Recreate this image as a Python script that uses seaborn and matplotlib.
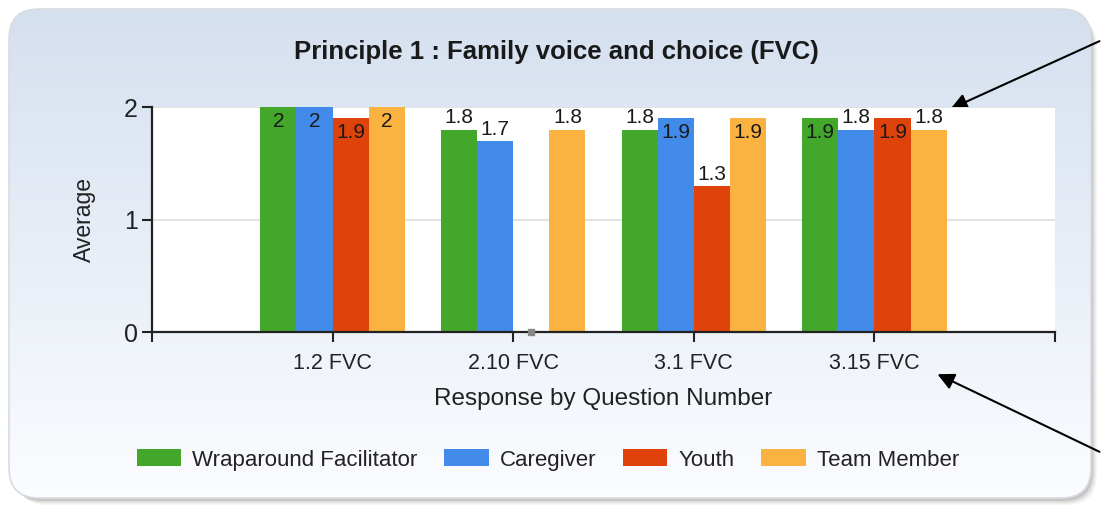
import numpy as np
import pandas as pd
import matplotlib
matplotlib.use("Agg")
import matplotlib.pyplot as plt
from matplotlib.patches import FancyBboxPatch, Patch
import seaborn as sns

# ---- data ----
questions = ["1.2 FVC", "2.10 FVC", "3.1 FVC", "3.15 FVC"]
roles = ["Wraparound Facilitator", "Caregiver", "Youth", "Team Member"]
facilitator = [2.0, 1.8, 1.8, 1.9]
caregiver = [2.0, 1.7, 1.9, 1.8]
youth = [1.9, 0.0, 1.3, 1.9]
team_member = [2.0, 1.8, 1.9, 1.8]
colors = ["#43A72C", "#428BEB", "#E0420B", "#FAB340"]
title = "Principle 1 : Family voice and choice (FVC)"
xlabel = "Response by Question Number"
ylabel = "Average"

df = pd.DataFrame({
    "question": questions * 4,
    "role": [r for r in roles for _ in questions],
    "avg": facilitator + caregiver + youth + team_member,
})

sns.set_theme(style="white")
plt.rcParams["font.family"] = ["Liberation Sans", "DejaVu Sans"]

W, H = 1102, 519
fig = plt.figure(figsize=(W / 100, H / 100), dpi=100)
fig.patch.set_facecolor("white")

# ---- background panel with gradient and shadow ----
bg = fig.add_axes([0, 0, 1, 1], zorder=-10)
bg.set_xlim(0, W)
bg.set_ylim(H, 0)
bg.axis("off")
for i, a in enumerate([0.05, 0.07, 0.10, 0.14]):
    off = 7 - i * 1.4
    sh = FancyBboxPatch((10 + off, 10 + off), 1080, 488, boxstyle="round,pad=0,rounding_size=30",
                        fc=(0.3, 0.3, 0.3, a), ec="none")
    bg.add_patch(sh)
panel = FancyBboxPatch((9, 9), 1082, 489, boxstyle="round,pad=0,rounding_size=30",
                       fc="none", ec="#D8DCE2", lw=1.2, zorder=3)
bg.add_patch(panel)
grad = np.linspace(0, 1, 256)[:, None]
top = np.array([0.835, 0.878, 0.937])
bot = np.array([0.985, 0.99, 1.0])
img = top[None, None, :] * (1 - grad[:, :, None]) + bot[None, None, :] * grad[:, :, None]
im = bg.imshow(img, extent=(9, 1091, 498, 9), aspect="auto", zorder=1)
clip = FancyBboxPatch((9, 9), 1082, 489, boxstyle="round,pad=0,rounding_size=30",
                      fc="none", ec="none", transform=bg.transData)
bg.add_patch(clip)
im.set_clip_path(clip)

# ---- plot ----
ax = fig.add_axes([152 / W, 1 - 332 / H, (1055 - 152) / W, (332 - 107) / H])
ax.set_facecolor("white")
sns.barplot(data=df, x="question", y="avg", hue="role", hue_order=roles,
            palette=colors, width=0.8, ax=ax, legend=False, saturation=1,
            edgecolor="none", linewidth=0)

ax.set_xlim(-1, 4)
ax.set_ylim(0, 2)
ax.set_xticks(range(-1, 5))
ax.set_xticklabels([""] + questions + [""], fontsize=15.5, color="#222222")
ax.set_yticks([0, 1, 2])
ax.set_yticklabels(["0", "1", "2"], fontsize=18, color="#222222")
ax.tick_params(axis="both", direction="out", length=7, width=1.5, color="#222222",
               bottom=True, left=True)
ax.tick_params(axis="x", pad=8)
ax.tick_params(axis="y", pad=3)
ax.yaxis.grid(True, color="#DDDDDD", lw=1.2)
ax.set_axisbelow(True)
for s in ["top", "right"]:
    ax.spines[s].set_visible(False)
for s in ["left", "bottom"]:
    ax.spines[s].set_color("#222222")
    ax.spines[s].set_linewidth(1.6)

ax.set_xlabel(xlabel, fontsize=17.5, color="#222222", labelpad=10)
ax.set_ylabel(ylabel, fontsize=16.5, color="#222222", labelpad=20)

# value labels
for cont in ax.containers:
    for bar in cont:
        v = bar.get_height()
        cx = bar.get_x() + bar.get_width() / 2
        if v == 0:
            ax.plot([cx], [0], marker="s", ms=4, color="#888888", clip_on=False, zorder=5)
            continue
        txt = f"{v:g}"
        if v + 0.17 > 2:
            ax.text(cx, v - 0.04, txt, ha="center", va="top", fontsize=15, color="#1a1a1a")
        else:
            ax.text(cx, v + 0.02, txt, ha="center", va="bottom", fontsize=15, color="#1a1a1a")

# title
fig.text(556 / W, 1 - 52 / H, title, ha="center", va="center", fontsize=18.5,
         fontweight="bold", color="#1a1a1a")

# legend
handles = [Patch(facecolor=c, edgecolor="none") for c in colors]
fig.legend(handles, roles, loc="center", bbox_to_anchor=(548 / W, 1 - 460 / H), ncol=4,
           frameon=False, fontsize=16, handlelength=2.0, handleheight=0.8,
           columnspacing=1.2, handletextpad=0.5, labelcolor="#222222")

# arrows
bg.annotate("", xy=(948, 110), xytext=(1102, 40),
            arrowprops=dict(arrowstyle="-|>", color="black", lw=1.5, mutation_scale=25))
bg.annotate("", xy=(935, 373), xytext=(1102, 453),
            arrowprops=dict(arrowstyle="-|>", color="black", lw=1.5, mutation_scale=25))

fig.savefig("out.png", dpi=100)
